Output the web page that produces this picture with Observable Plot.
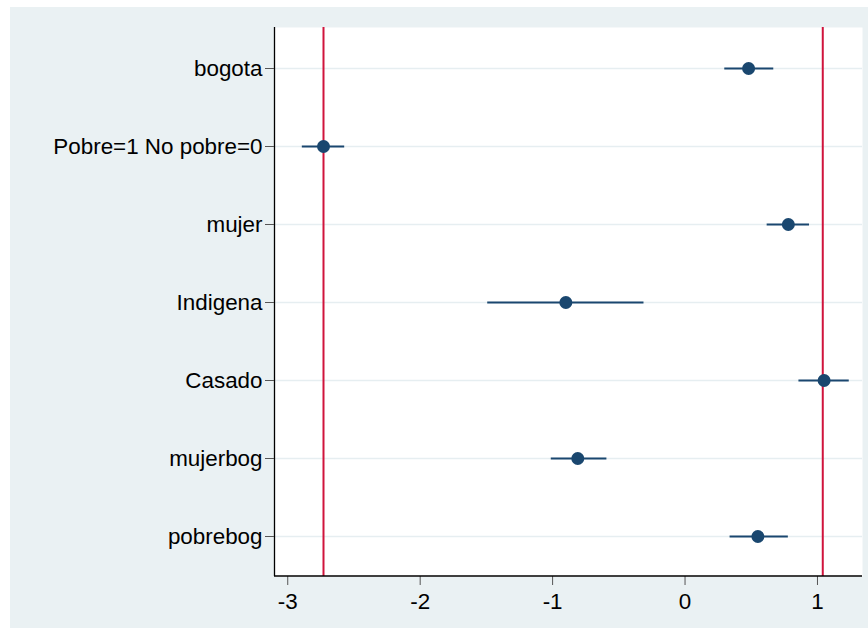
<!DOCTYPE html>
<html>
<head>
<meta charset="utf-8">
<script src="https://cdn.jsdelivr.net/npm/d3@7"></script>
<script src="https://cdn.jsdelivr.net/npm/@observablehq/plot@0.6"></script>
<style>
  html, body { margin: 0; padding: 0; background: #ffffff; }
  #wrap { position: absolute; left: 10px; top: 7px; width: 858px; height: 621px; background: #eaf1f3; }
  #wrap svg text { font-size: 22.4px !important; font-family: Arial, "Liberation Sans", sans-serif !important; fill: #000; }
</style>
</head>
<body>
<div id="wrap"></div>
<script>
const categories = ["bogota", "Pobre=1 No pobre=0", "mujer", "Indigena", "Casado", "mujerbog", "pobrebog"];
const estimates = [0.48, -2.73, 0.78, -0.90, 1.05, -0.81, 0.55];
const lower     = [0.30, -2.89, 0.62, -1.49, 0.86, -1.01, 0.34];
const upper     = [0.67, -2.57, 0.94, -0.31, 1.24, -0.59, 0.78];
const refLines  = [-2.73, 1.04];
const xTicks    = [-3, -2, -1, 0, 1];
const xDomain   = [-3.1, 1.34];

const data = categories.map((c, i) => ({term: c, est: estimates[i], lo: lower[i], hi: upper[i]}));
const navy = "#1a476f";

const chart = Plot.plot({
  width: 858,
  height: 621,
  marginLeft: 264,
  marginTop: 20,
  marginRight: 6,
  marginBottom: 52,
  style: {background: "transparent", fontFamily: "Arial, 'Liberation Sans', sans-serif", fontSize: "22px", color: "#000"},
  x: {domain: xDomain, ticks: xTicks, label: null},
  y: {type: "point", domain: categories, padding: 0.5, label: null},
  marks: [
    Plot.frame({fill: "white", stroke: "none"}),
    Plot.gridY(categories, {stroke: "#e6eef1", strokeOpacity: 1, strokeWidth: 1.5}),
    Plot.ruleX(refLines, {stroke: "#d0143c", strokeWidth: 2}),
    Plot.ruleY(data, {y: "term", x1: "lo", x2: "hi", stroke: navy, strokeWidth: 2.2}),
    Plot.dot(data, {x: "est", y: "term", r: 6.5, fill: navy, stroke: "none"}),
    Plot.ruleX([xDomain[0]], {stroke: "#000", strokeWidth: 1.3}),
    Plot.axisY({tickSize: 9, tickPadding: 3, stroke: "#555", fill: "#000", fontSize: 22}),
    Plot.axisX({ticks: xTicks, tickSize: 9, tickPadding: 8, stroke: "#555", fill: "#000", fontSize: 22, tickFormat: d => (d < 0 ? "-" + Math.abs(d) : String(d))})
  ]
});
document.getElementById("wrap").appendChild(chart);

// bottom axis line along the plot's lower edge
const svg = d3.select(chart);
const xs = chart.scale("x");
svg.append("line")
  .attr("x1", xs.apply(xDomain[0])).attr("x2", xs.apply(xDomain[1]))
  .attr("y1", 621 - 52).attr("y2", 621 - 52)
  .attr("stroke", "#000").attr("stroke-width", 1.3);
</script>
</body>
</html>
